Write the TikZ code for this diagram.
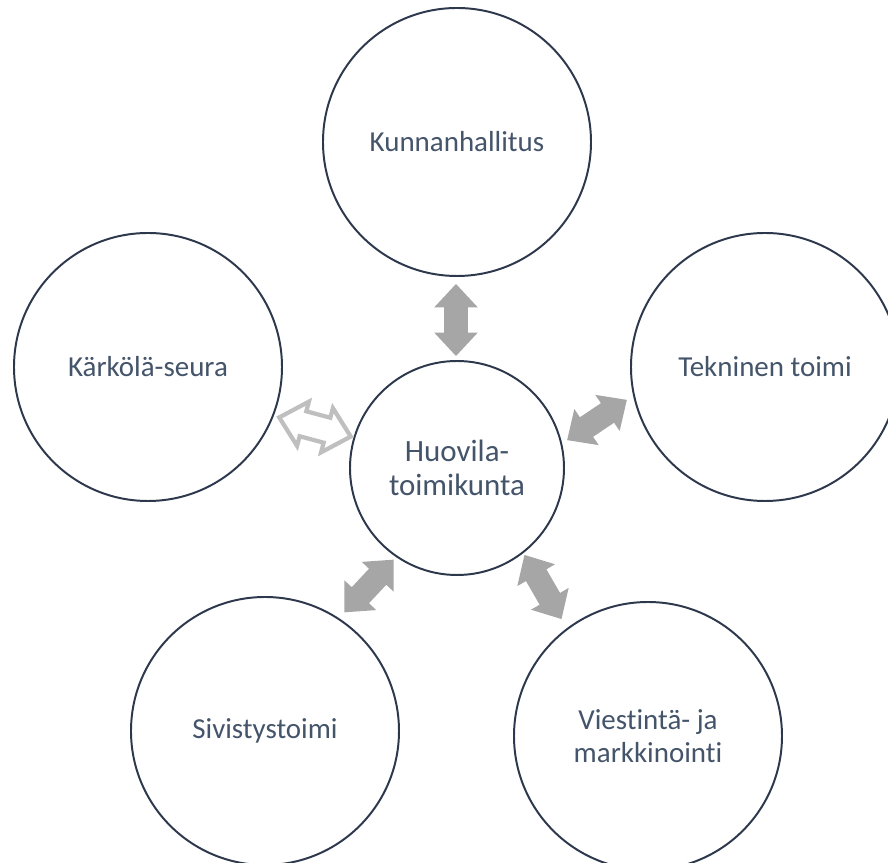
\documentclass[tikz,border=0pt]{standalone}
\usepackage{fontspec}
\setmainfont{Carlito}[Ligatures=NoCommon]
\usetikzlibrary{positioning, calc, shapes.arrows}

\definecolor{texto}{HTML}{44546A}
\definecolor{borda}{HTML}{2D384C}
\definecolor{seta}{HTML}{A6A6A6}
\definecolor{setaclara}{HTML}{BFBFBF}

\begin{document}
\begin{tikzpicture}[
    font=\fontsize{20.6}{23.5}\selectfont, text=texto,
    % Estilos
    circ/.style={
        draw=borda, circle, fill=white, align=center,
        minimum size=6.7cm, inner sep=0pt, line width=1.4pt
    },
    hub_circ/.style={
        circ, minimum size=5.35cm,
        font=\fontsize{22}{24.2}\selectfont
    },
    % a espessura do corpo vem do inner ysep
    fat_arrow/.style={
        double arrow, draw=none, fill=seta,
        inner xsep=0pt, inner ysep=0.2875cm,
        minimum width=1.075cm, minimum height=1.8cm,
        double arrow tip angle=86
    },
    hollow_arrow/.style={
        fat_arrow, fill=white, draw=setaclara, line width=3pt,
        inner ysep=0.27cm, minimum width=1.05cm, minimum height=1.85cm
    }
]

    % --- MOLDURA ---
    \useasboundingbox (-11.425,-9.875) rectangle (10.775,11.7);

    % --- NÓS ---
    \node[hub_circ] (hub) at (0,0) {Huovila-\\toimikunta};

    % Círculos em volta do centro
    \node[circ] (c_top) at ([yshift=8.15cm]hub) {Kunnanhallitus};
    \node[circ] (c_left) at ([shift={(-7.725,2.525)}]hub) {Kärkölä-seura};
    \node[circ] (c_right) at ([shift={(7.7,2.525)}]hub) {Tekninen toimi};
    \node[circ] (c_bottom_left) at ([shift={(-4.8,-6.575)}]hub) {Sivistystoimi};
    \node[circ] (c_bottom_right) at ([shift={(4.775,-6.7)}]hub) {Viestintä- ja\\markkinointi};

    % --- SETAS ---
    \node[fat_arrow, rotate=90] (a_top) at ([shift={(-0.025,3.7)}]hub) {};
    \node[fat_arrow, rotate=34] (a_right) at ([shift={(3.5,1.2)}]hub) {};
    \node[fat_arrow, rotate=-60, minimum height=1.85cm] (a_bottom_right) at ([shift={(2.15,-2.975)}]hub) {};
    \node[fat_arrow, rotate=47] (a_bottom_left) at ([shift={(-2.2,-2.95)}]hub) {};
    \node[hollow_arrow, rotate=165] (a_left) at ([shift={(-3.55,1.025)}]hub) {};

\end{tikzpicture}
\end{document}
